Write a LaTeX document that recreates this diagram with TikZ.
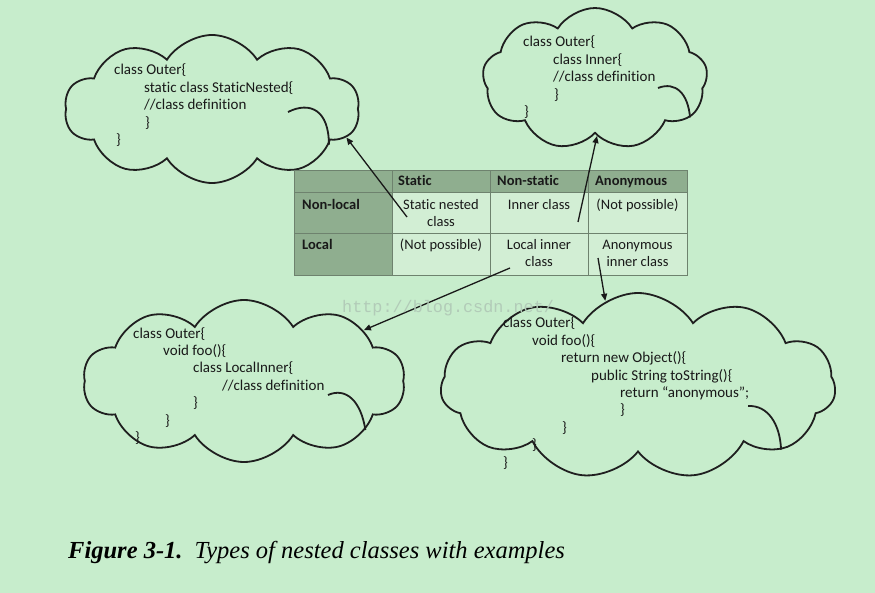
\documentclass[tikz,border=0pt]{standalone}
\usepackage{fontspec}
\setmainfont{Carlito}[Ligatures=NoCommon]
\newfontfamily\capfont{Liberation Serif}
\newfontfamily\wmfont{Liberation Mono}
\usetikzlibrary{shapes.symbols,arrows.meta}
\definecolor{bg}{RGB}{199,237,204}
\definecolor{hdr}{RGB}{143,174,143}
\definecolor{cellc}{RGB}{210,238,212}
\definecolor{gridc}{RGB}{110,130,110}
\definecolor{ink}{RGB}{25,25,25}
\definecolor{wm}{RGB}{178,203,184}
\newcommand\codeblk[1]{\vtop{\baselineskip=17.4pt\lineskiplimit=-20pt\halign{##\hfil\cr#1\crcr}}}
\newcommand\ctrblk[1]{\vtop{\baselineskip=17pt\lineskiplimit=-20pt\halign{\hfil##\hfil\cr#1\crcr}}}
\begin{document}
\begin{tikzpicture}[x=1pt,y=-1pt,
  cloudbox/.style={cloud, draw=black!88, line width=1.8pt, cloud ignores aspect, cloud puff arc=115, inner sep=0pt},
  inarc/.style={draw=black!88, line width=1.8pt},
  code/.style={anchor=base west, inner sep=0pt, text=ink, font=\fontsize{15}{17.4}\selectfont},
  hcell/.style={draw=gridc, line width=0.9pt, fill=hdr, anchor=north west, inner sep=0pt},
  bcell/.style={draw=gridc, line width=0.9pt, fill=cellc, anchor=north west, inner sep=0pt},
  htext/.style={anchor=base west, inner sep=0pt, text=ink, font=\fontsize{14.5}{17}\selectfont\bfseries},
  ctext/.style={anchor=base, inner sep=0pt, text=ink, font=\fontsize{14.5}{17}\selectfont},
  arr/.style={-{Triangle[length=7pt,width=6pt]}, line width=1.3pt, black!90}
]
\useasboundingbox (0,0) rectangle (875,593);
\fill[bg] (0,0) rectangle (875,593);

% clouds
\node[cloudbox, cloud puffs=10, minimum width=295pt, minimum height=148pt] (c1) at (212,109) {};
\node[cloudbox, cloud puffs=9, minimum width=225pt, minimum height=142pt] (c2) at (595,79) {};
\node[cloudbox, cloud puffs=10, minimum width=322pt, minimum height=162pt] (c3) at (244,381) {};
\node[cloudbox, cloud puffs=11, minimum width=395pt, minimum height=186pt] (c4) at (638,386) {};

% inner arcs of the clouds
\draw[inarc] (288,112) .. controls (310,101) and (329,110) .. (c1.-17);
\draw[inarc] (658,88) .. controls (676,81) and (688,94) .. (c2.-22);
\draw[inarc] (328,395) .. controls (346,387) and (361,401) .. (c3.-22);
\draw[inarc] (748,406) .. controls (768,405) and (780,424) .. (c4.-24);

% cloud texts
\node[code] (k1) at (114,75) {\codeblk{class Outer\{\cr
\hskip30pt static class StaticNested\{\cr
\hskip30pt //class definition\cr
\hskip31pt \}\cr
\hskip2pt \}}};
\node[code] (k2) at (523,47) {\codeblk{class Outer\{\cr
\hskip30pt class Inner\{\cr
\hskip30pt //class definition\cr
\hskip31pt \}\cr
\hskip1pt \}}};
\node[code] (k3) at (133,338) {\codeblk{class Outer\{\cr
\hskip30pt void foo()\{\cr
\hskip60pt class LocalInner\{\cr
\hskip89pt //class definition\cr
\hskip60pt \}\cr
\hskip32pt \}\cr
\hskip2pt \}}};
\node[code] (k4) at (503,328) {\codeblk{class Outer\{\cr
\hskip29pt void foo()\{\cr
\hskip58pt return new Object()\{\cr
\hskip88pt public String toString()\{\cr
\hskip117pt return “anonymous”;\cr
\hskip117pt \}\cr
\hskip59pt \}\cr
\hskip29pt \}\cr
\}}};

% table
\node[hcell, minimum width=98pt, minimum height=22pt] (h0) at (294,170) {};
\node[hcell, minimum width=98pt, minimum height=22pt] (h1) at (392,170) {};
\node[hcell, minimum width=98pt, minimum height=22pt] (h2) at (490,170) {};
\node[hcell, minimum width=99pt, minimum height=22pt] (h3) at (588,170) {};
\node[hcell, minimum width=98pt, minimum height=41pt] (r1) at (294,192) {};
\node[bcell, minimum width=98pt, minimum height=41pt] (a1) at (392,192) {};
\node[bcell, minimum width=98pt, minimum height=41pt] (a2) at (490,192) {};
\node[bcell, minimum width=99pt, minimum height=41pt] (a3) at (588,192) {};
\node[hcell, minimum width=98pt, minimum height=42pt] (r2) at (294,233) {};
\node[bcell, minimum width=98pt, minimum height=42pt] (b1) at (392,233) {};
\node[bcell, minimum width=98pt, minimum height=42pt] (b2) at (490,233) {};
\node[bcell, minimum width=99pt, minimum height=42pt] (b3) at (588,233) {};

\node[htext] (th1) at (398,186) {Static};
\node[htext] (th2) at (497,186) {Non-static};
\node[htext] (th3) at (595,186) {Anonymous};
\node[htext] (tr1) at (302,210) {Non-local};
\node[htext] (tr2) at (302,250) {Local};

\node[ctext] (ta1) at (441,210) {\ctrblk{Static nested\cr class}};
\node[ctext] (ta2) at (539,210) {Inner class};
\node[ctext] (ta3) at (637.5,210) {(Not possible)};
\node[ctext] (tb1) at (441,250) {(Not possible)};
\node[ctext] (tb2) at (539,250) {\ctrblk{Local inner\cr class}};
\node[ctext] (tb3) at (637.5,250) {\ctrblk{Anonymous\cr inner class}};

% arrows
\coordinate (s1) at (407,217);
\coordinate (s2) at (578,222);
\coordinate (s3) at (510,268);
\coordinate (s4) at (598,258);
\draw[arr] (s1) -- (c1.-12);
\draw[arr] (s2) -- (c2.-88);
\draw[arr] (s3) -- (c3.23);
\draw[arr] (s4) -- (c4.111);

% watermark
\node[anchor=base west, inner sep=0pt, text=wm, font=\wmfont\fontsize{16.8}{18}\selectfont] (wmk) at (342,313) {http://blog.csdn.net/};

% caption
\node[anchor=base west, inner sep=0pt, text=black, font=\capfont\fontsize{24.5}{28}\selectfont] (cap) at (68,558) {\textbf{\textit{Figure 3-1.}}\hskip12pt\textit{Types of nested classes with examples}};
\end{tikzpicture}
\end{document}
